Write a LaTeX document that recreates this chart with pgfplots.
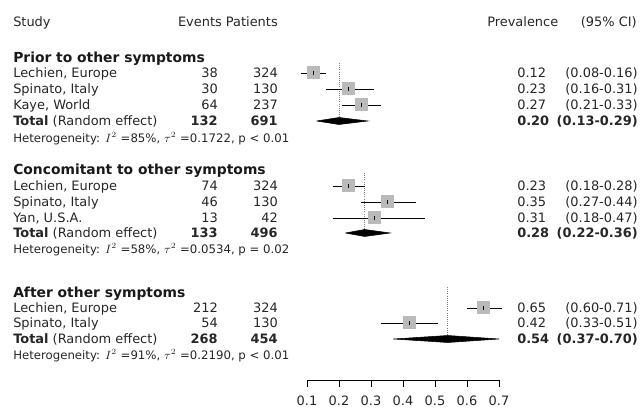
\documentclass[border=0pt]{standalone}
\usepackage{pgfplots}
\pgfplotsset{compat=1.18}
\usepackage{fontspec}
\setmainfont{DejaVu Sans}
\pgfdeclareplotmark{tickdown}{\pgfpathmoveto{\pgfpoint{0pt}{0pt}}\pgfpathlineto{\pgfpoint{0pt}{-\pgfplotmarksize}}\pgfusepathqstroke}
\tikzset{
  txt/.style={inner sep=0pt, text=black!85, font=\fontsize{9.7}{11}\selectfont, text height=7.1pt, text depth=0pt},
  ttl/.style={inner sep=0pt, text=black!90, font=\fontsize{10.4}{12}\selectfont\bfseries, text height=7.6pt, text depth=0pt},
  het/.style={inner sep=0pt, text=black!85, font=\fontsize{8.8}{10}\selectfont, text height=6.4pt, text depth=0pt},
}
\begin{document}
\begin{tikzpicture}
\begin{axis}[
  scale only axis, width=481.5pt, height=307.5pt,
  xmin=-0.859375, xmax=1.146875, ymin=-410, ymax=0,
  hide axis, clip=false,
]
\path (rel axis cs:0,0) rectangle (rel axis cs:1,1);
% dotted reference lines
\addplot[densely dotted, gray, line width=0.6pt] coordinates {(0.20,-63) (0.20,-121)};
\addplot[densely dotted, gray, line width=0.6pt] coordinates {(0.28,-173) (0.28,-233)};
\addplot[densely dotted, gray, line width=0.6pt] coordinates {(0.54,-287) (0.54,-339)};
% confidence intervals
\addplot[black, line width=0.6pt] coordinates {(0.08,-73) (0.16,-73)};
\addplot[black, line width=0.6pt] coordinates {(0.16,-89) (0.31,-89)};
\addplot[black, line width=0.6pt] coordinates {(0.21,-105) (0.33,-105)};
\addplot[black, line width=0.6pt] coordinates {(0.18,-186) (0.28,-186)};
\addplot[black, line width=0.6pt] coordinates {(0.27,-202) (0.44,-202)};
\addplot[black, line width=0.6pt] coordinates {(0.18,-218) (0.47,-218)};
\addplot[black, line width=0.6pt] coordinates {(0.60,-308) (0.71,-308)};
\addplot[black, line width=0.6pt] coordinates {(0.33,-323) (0.51,-323)};
% study squares
\addplot[black!27, only marks, mark=square*, mark size=4.5pt, mark options={fill=black!27, draw=black!27, line width=0pt}]
  coordinates {(0.12,-73) (0.23,-89) (0.27,-105) (0.23,-186) (0.35,-202) (0.31,-218) (0.65,-308) (0.42,-323)};
\addplot[black, only marks, mark=|, mark size=1.5pt, mark options={black, line width=0.6pt}]
  coordinates {(0.12,-73) (0.23,-89) (0.27,-105) (0.23,-186) (0.35,-202) (0.31,-218) (0.65,-308) (0.42,-323)};
% pooled diamonds
\addplot[fill=black, draw=black] coordinates {(0.13,-121) (0.20,-117.5) (0.29,-121) (0.20,-124.5) (0.13,-121)};
\addplot[fill=black, draw=black] coordinates {(0.22,-233) (0.28,-229.5) (0.36,-233) (0.28,-236.5) (0.22,-233)};
\addplot[fill=black, draw=black] coordinates {(0.37,-339) (0.54,-335.5) (0.70,-339) (0.54,-342.5) (0.37,-339)};
% x axis
\addplot[black, line width=0.6pt] coordinates {(0.1,-380) (0.7,-380)};
\addplot[black, only marks, mark=tickdown, mark size=5.25pt, mark options={black, line width=0.6pt}]
  coordinates {(0.1,-380) (0.2,-380) (0.3,-380) (0.4,-380) (0.5,-380) (0.6,-380) (0.7,-380)};
\foreach \t in {0.1,0.2,0.3,0.4,0.5,0.6,0.7} {
  \edef\temp{\noexpand\node[txt, anchor=center] at (axis cs:\t,-401) {\t};}
  \temp
}
% header
\node[txt, anchor=west] at (axis cs:-0.81875,-22) {Study};
\node[txt, anchor=east] at (axis cs:0.009375,-22) {Events Patients};
\node[txt, anchor=west] at (axis cs:0.6625,-22) {Prevalence};
\node[txt, anchor=east] at (axis cs:1.13125,-22) {(95\% CI)};
% group 1
\node[ttl, anchor=west] at (axis cs:-0.81875,-57) {Prior to other symptoms};
\node[txt, anchor=west] at (axis cs:-0.81875,-73) {Lechien, Europe};
\node[txt, anchor=west] at (axis cs:-0.81875,-89) {Spinato, Italy};
\node[txt, anchor=west] at (axis cs:-0.81875,-105) {Kaye, World};
\node[txt, anchor=west] at (axis cs:-0.81875,-121) {\textbf{Total} (Random effect)};
\node[het, anchor=west] at (axis cs:-0.81875,-138) {Heterogeneity: $I^2$ =85\%, $\tau^2$ =0.1722, p < 0.01};
\node[txt, anchor=east] at (axis cs:-0.178125,-73) {38};
\node[txt, anchor=east] at (axis cs:-0.178125,-89) {30};
\node[txt, anchor=east] at (axis cs:-0.178125,-105) {64};
\node[txt, anchor=east] at (axis cs:-0.178125,-121) {\textbf{132}};
\node[txt, anchor=east] at (axis cs:0.009375,-73) {324};
\node[txt, anchor=east] at (axis cs:0.009375,-89) {130};
\node[txt, anchor=east] at (axis cs:0.009375,-105) {237};
\node[txt, anchor=east] at (axis cs:0.009375,-121) {\textbf{691}};
\node[txt, anchor=west] at (axis cs:0.75625,-73) {0.12};
\node[txt, anchor=west] at (axis cs:0.75625,-89) {0.23};
\node[txt, anchor=west] at (axis cs:0.75625,-105) {0.27};
\node[txt, anchor=west] at (axis cs:0.75625,-121) {\textbf{0.20}};
\node[txt, anchor=east] at (axis cs:1.134375,-73) {(0.08-0.16)};
\node[txt, anchor=east] at (axis cs:1.134375,-89) {(0.16-0.31)};
\node[txt, anchor=east] at (axis cs:1.134375,-105) {(0.21-0.33)};
\node[txt, anchor=east] at (axis cs:1.134375,-121) {\textbf{(0.13-0.29)}};
% group 2
\node[ttl, anchor=west] at (axis cs:-0.81875,-169) {Concomitant to other symptoms};
\node[txt, anchor=west] at (axis cs:-0.81875,-186) {Lechien, Europe};
\node[txt, anchor=west] at (axis cs:-0.81875,-202) {Spinato, Italy};
\node[txt, anchor=west] at (axis cs:-0.81875,-218) {Yan, U.S.A.};
\node[txt, anchor=west] at (axis cs:-0.81875,-233) {\textbf{Total} (Random effect)};
\node[het, anchor=west] at (axis cs:-0.81875,-249) {Heterogeneity: $I^2$ =58\%, $\tau^2$ =0.0534, p = 0.02};
\node[txt, anchor=east] at (axis cs:-0.178125,-186) {74};
\node[txt, anchor=east] at (axis cs:-0.178125,-202) {46};
\node[txt, anchor=east] at (axis cs:-0.178125,-218) {13};
\node[txt, anchor=east] at (axis cs:-0.178125,-233) {\textbf{133}};
\node[txt, anchor=east] at (axis cs:0.009375,-186) {324};
\node[txt, anchor=east] at (axis cs:0.009375,-202) {130};
\node[txt, anchor=east] at (axis cs:0.009375,-218) {42};
\node[txt, anchor=east] at (axis cs:0.009375,-233) {\textbf{496}};
\node[txt, anchor=west] at (axis cs:0.75625,-186) {0.23};
\node[txt, anchor=west] at (axis cs:0.75625,-202) {0.35};
\node[txt, anchor=west] at (axis cs:0.75625,-218) {0.31};
\node[txt, anchor=west] at (axis cs:0.75625,-233) {\textbf{0.28}};
\node[txt, anchor=east] at (axis cs:1.134375,-186) {(0.18-0.28)};
\node[txt, anchor=east] at (axis cs:1.134375,-202) {(0.27-0.44)};
\node[txt, anchor=east] at (axis cs:1.134375,-218) {(0.18-0.47)};
\node[txt, anchor=east] at (axis cs:1.134375,-233) {\textbf{(0.22-0.36)}};
% group 3
\node[ttl, anchor=west] at (axis cs:-0.81875,-292) {After other symptoms};
\node[txt, anchor=west] at (axis cs:-0.81875,-308) {Lechien, Europe};
\node[txt, anchor=west] at (axis cs:-0.81875,-323) {Spinato, Italy};
\node[txt, anchor=west] at (axis cs:-0.81875,-339) {\textbf{Total} (Random effect)};
\node[het, anchor=west] at (axis cs:-0.81875,-355) {Heterogeneity: $I^2$ =91\%, $\tau^2$ =0.2190, p < 0.01};
\node[txt, anchor=east] at (axis cs:-0.178125,-308) {212};
\node[txt, anchor=east] at (axis cs:-0.178125,-323) {54};
\node[txt, anchor=east] at (axis cs:-0.178125,-339) {\textbf{268}};
\node[txt, anchor=east] at (axis cs:0.009375,-308) {324};
\node[txt, anchor=east] at (axis cs:0.009375,-323) {130};
\node[txt, anchor=east] at (axis cs:0.009375,-339) {\textbf{454}};
\node[txt, anchor=west] at (axis cs:0.75625,-308) {0.65};
\node[txt, anchor=west] at (axis cs:0.75625,-323) {0.42};
\node[txt, anchor=west] at (axis cs:0.75625,-339) {\textbf{0.54}};
\node[txt, anchor=east] at (axis cs:1.134375,-308) {(0.60-0.71)};
\node[txt, anchor=east] at (axis cs:1.134375,-323) {(0.33-0.51)};
\node[txt, anchor=east] at (axis cs:1.134375,-339) {\textbf{(0.37-0.70)}};
\end{axis}
\end{tikzpicture}
\end{document}
